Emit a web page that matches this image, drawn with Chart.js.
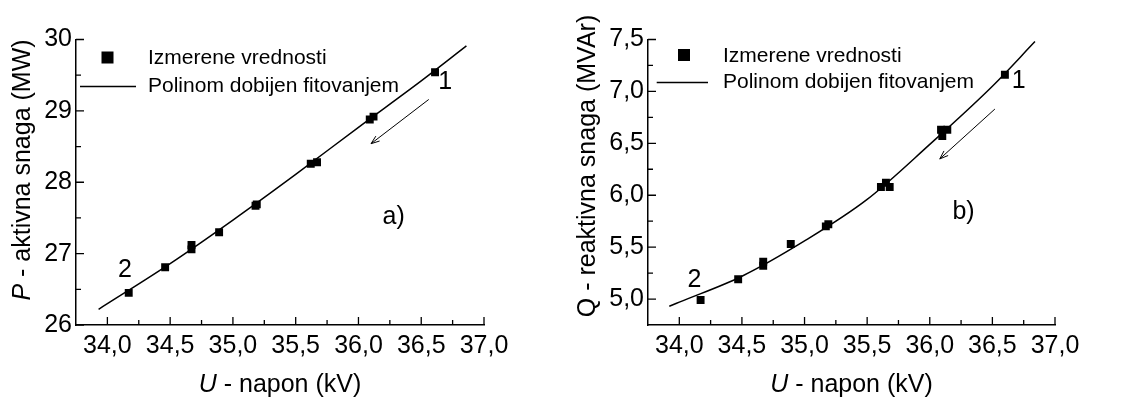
<!DOCTYPE html>
<html><head><meta charset="utf-8">
<script src="https://cdn.jsdelivr.net/npm/chart.js@4.4.1/dist/chart.umd.min.js"></script>
<style>
html,body{margin:0;padding:0;background:#fff;width:1132px;height:398px;overflow:hidden}
.c{position:absolute;top:0;width:566px;height:398px}
</style></head><body>
<div class="c" style="left:0"><canvas id="ca" width="566" height="398"></canvas></div>
<div class="c" style="left:566px"><canvas id="cb" width="566" height="398"></canvas></div>
<script>
// ---- ticks ----
const uTicks = [34.0, 34.5, 35.0, 35.5, 36.0, 36.5, 37.0];
const uMinorTicks = [34.25, 34.75, 35.25, 35.75, 36.25, 36.75];
const pTicks = [26, 27, 28, 29, 30];
const pMinorTicks = [26.5, 27.5, 28.5, 29.5];
const qTicks = [5.0, 5.5, 6.0, 6.5, 7.0, 7.5];
const qMinorTicks = [5.25, 5.75, 6.25, 6.75, 7.25];

// ---- chart a) active power ----
const uMeasP = [34.17, 34.46, 34.67, 34.67, 34.89, 35.18, 35.19, 35.62, 35.67, 36.09, 36.12, 36.61];
const pMeas  = [26.45, 26.81, 27.06, 27.12, 27.30, 27.67, 27.69, 28.26, 28.28, 28.88, 28.92, 29.54];
const uFitP  = [33.93, 34.5, 35.0, 35.5, 36.0, 36.5, 36.86];
const pFit   = [26.22, 26.86, 27.47, 28.11, 28.77, 29.42, 29.91];

// ---- chart b) reactive power ----
const uMeasQ = [34.17, 34.47, 34.67, 34.67, 34.89, 35.17, 35.19, 35.61, 35.65, 35.68, 36.09, 36.14, 36.10, 36.60];
const qMeas  = [4.99, 5.19, 5.36, 5.32, 5.53, 5.70, 5.72, 6.08, 6.12, 6.08, 6.63, 6.63, 6.57, 7.16];
const uFitQ  = [33.92, 34.0, 34.5, 35.0, 35.5, 36.0, 36.5, 36.84];
const qFit   = [4.93, 4.97, 5.22, 5.56, 5.96, 6.49, 7.05, 7.48];

// ---- annotations (data coordinates) ----
const arrowA = [36.56, 29.16, 36.10, 28.54];
const arrowB = [36.52, 6.83, 36.08, 6.35];
const labelsA = [{t:'1', u:36.69, v:29.40}, {t:'2', u:34.14, v:26.77}, {t:'a)', u:36.28, v:27.51}];
const labelsB = [{t:'1', u:36.71, v:7.10}, {t:'2', u:34.12, v:5.18}, {t:'b)', u:36.27, v:5.84}];

const legendMeas = 'Izmerene vrednosti';
const legendFit = 'Polinom dobijen fitovanjem';

const FONT = "'Liberation Sans', Arial, sans-serif";
const fmt1 = v => v.toFixed(1).replace('.', ',');

function pts(xs, ys){ return xs.map((x,i)=>({x:x, y:ys[i]})); }

const decoPlugin = {
  id: 'deco',
  afterDraw(chart, args, o) {
    const ctx = chart.ctx, x = chart.scales.x, y = chart.scales.y, ca = chart.chartArea;
    ctx.save();
    ctx.strokeStyle = '#000'; ctx.fillStyle = '#000';
    // inward tick marks
    ctx.lineWidth = 1.3;
    ctx.beginPath();
    o.xMajor.forEach(v => { const px = x.getPixelForValue(v); ctx.moveTo(px, ca.bottom); ctx.lineTo(px, ca.bottom - 8); });
    o.xMinor.forEach(v => { const px = x.getPixelForValue(v); ctx.moveTo(px, ca.bottom); ctx.lineTo(px, ca.bottom - 5); });
    o.yMajor.forEach(v => { const py = y.getPixelForValue(v); ctx.moveTo(ca.left, py); ctx.lineTo(ca.left + 8, py); });
    o.yMinor.forEach(v => { const py = y.getPixelForValue(v); ctx.moveTo(ca.left, py); ctx.lineTo(ca.left + 5, py); });
    ctx.stroke();

    // x title
    ctx.textBaseline = 'middle';
    const drawMixed = (parts, cx, cy) => {
      let total = 0;
      parts.forEach(p => { ctx.font = p.f; p.w = ctx.measureText(p.t).width; total += p.w; });
      let sx = cx - total / 2;
      parts.forEach(p => { ctx.font = p.f; ctx.textAlign = 'left'; ctx.fillText(p.t, sx, cy); sx += p.w; });
    };
    drawMixed(o.xTitle, (ca.left + ca.right) / 2, o.xTitleY);
    ctx.save();
    ctx.translate(o.yTitleX, o.yTitleY);
    ctx.rotate(-Math.PI / 2);
    drawMixed(o.yTitle, 0, 0);
    ctx.restore();

    // legend
    const L = o.legend;
    ctx.fillRect(ca.left + L.mx - 6, ca.top + L.my - 6, 12, 12);
    ctx.lineWidth = 1.5;
    ctx.beginPath(); ctx.moveTo(ca.left + L.l0, ca.top + L.ly); ctx.lineTo(ca.left + L.l1, ca.top + L.ly); ctx.stroke();
    ctx.font = '21px ' + FONT; ctx.textAlign = 'left';
    ctx.fillText(legendMeas, ca.left + L.tx, ca.top + L.my + 1);
    ctx.fillText(legendFit, ca.left + L.tx, ca.top + L.ly);

    // labels
    ctx.font = '25px ' + FONT; ctx.textAlign = 'center';
    o.labels.forEach(l => ctx.fillText(l.t, x.getPixelForValue(l.u), y.getPixelForValue(l.v)));

    // arrow
    const a = o.arrow;
    const x0 = x.getPixelForValue(a[0]), y0 = y.getPixelForValue(a[1]);
    const x1 = x.getPixelForValue(a[2]), y1 = y.getPixelForValue(a[3]);
    ctx.lineWidth = 1;
    ctx.beginPath(); ctx.moveTo(x0, y0); ctx.lineTo(x1, y1); ctx.stroke();
    const ang = Math.atan2(y1 - y0, x1 - x0), hl = 9;
    ctx.beginPath();
    ctx.moveTo(x1 - hl * Math.cos(ang - 0.35), y1 - hl * Math.sin(ang - 0.35));
    ctx.lineTo(x1, y1);
    ctx.lineTo(x1 - hl * Math.cos(ang + 0.35), y1 - hl * Math.sin(ang + 0.35));
    ctx.stroke();
    ctx.restore();
  }
};

function makeChart(id, cfg) {
  return new Chart(document.getElementById(id), {
    type: 'scatter',
    data: {
      datasets: [
        { label: legendMeas, data: pts(cfg.mu, cfg.mv), pointStyle: 'rect', pointRadius: 5.6,
          pointBackgroundColor: '#000', pointBorderWidth: 0, showLine: false, order: 1 },
        { label: legendFit, data: pts(cfg.fu, cfg.fv), showLine: true, borderColor: '#000', borderWidth: 1.5,
          pointRadius: 0, tension: 0.4, cubicInterpolationMode: 'monotone', fill: false, order: 2 }
      ]
    },
    options: {
      responsive: false, animation: false, events: [],
      layout: { padding: { left: 0, right: cfg.padR, top: 39.5, bottom: 0 } },
      plugins: { legend: { display: false }, tooltip: { enabled: false }, deco: cfg.deco },
      scales: {
        x: {
          type: 'linear', min: 33.75, max: 37.0,
          grid: { display: false, drawTicks: false },
          border: { display: true, color: '#000', width: 1.5 },
          afterBuildTicks: s => { s.ticks = uTicks.map(v => ({ value: v })); },
          afterFit: s => { s.height = 73; },
          ticks: { color: '#000', font: { family: FONT, size: 25 }, padding: 6, maxRotation: 0, autoSkip: false,
                   callback: v => fmt1(v) }
        },
        y: {
          type: 'linear', min: cfg.ymin, max: cfg.ymax,
          grid: { display: false, drawTicks: false },
          border: { display: true, color: '#000', width: 1.5 },
          afterBuildTicks: s => { s.ticks = cfg.yt.map(v => ({ value: v })); },
          afterFit: s => { s.width = cfg.yw; },
          ticks: { color: '#000', font: { family: FONT, size: 25 }, padding: 4, autoSkip: false,
                   callback: cfg.yfmt }
        }
      }
    },
    plugins: [decoPlugin]
  });
}

Chart.defaults.font.family = FONT;

makeChart('ca', {
  mu: uMeasP, mv: pMeas, fu: uFitP, fv: pFit,
  ymin: 26, ymax: 30, yt: pTicks, yw: 76, padR: 82,
  yfmt: v => String(Math.round(v)),
  deco: {
    xMajor: uTicks, xMinor: uMinorTicks, yMajor: pTicks, yMinor: pMinorTicks,
    xTitle: [{ t: 'U', f: 'italic 25px ' + FONT }, { t: ' - napon (kV)', f: '25px ' + FONT }], xTitleY: 385,
    yTitle: [{ t: 'P', f: 'italic 25px ' + FONT }, { t: ' - aktivna snaga (MW)', f: '25px ' + FONT }],
    yTitleX: 23, yTitleY: 170,
    legend: { mx: 31.5, my: 18, tx: 72, l0: 4, l1: 60, ly: 47 },
    labels: labelsA, arrow: arrowA
  }
});

makeChart('cb', {
  mu: uMeasQ, mv: qMeas, fu: uFitQ, fv: qFit,
  ymin: 4.75, ymax: 7.5, yt: qTicks, yw: 82, padR: 77,
  yfmt: v => fmt1(v),
  deco: {
    xMajor: uTicks, xMinor: uMinorTicks, yMajor: qTicks, yMinor: qMinorTicks,
    xTitle: [{ t: 'U', f: 'italic 25px ' + FONT }, { t: ' - napon (kV)', f: '25px ' + FONT }], xTitleY: 385,
    yTitle: [{ t: 'Q - reaktivna snaga (MVAr)', f: '25px ' + FONT }],
    yTitleX: 22, yTitleY: 166,
    legend: { mx: 36, my: 15.5, tx: 75, l0: 8.7, l1: 60, ly: 43 },
    labels: labelsB, arrow: arrowB
  }
});
</script>
</body></html>
